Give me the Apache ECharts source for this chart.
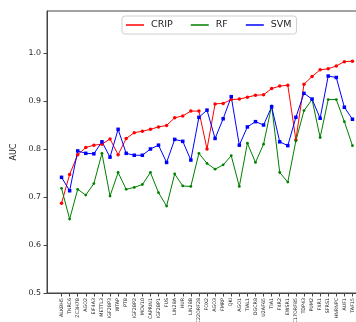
<!DOCTYPE html>
<html>
<head>
<meta charset="utf-8">
<script src="https://cdn.jsdelivr.net/npm/echarts@6/dist/echarts.min.js"></script>
<style>
html,body{margin:0;padding:0;background:#fff;}
#c{width:356px;height:322px;}
</style>
</head>
<body>
<div id="c"></div>
<script>
const categories = ['ALKBH5','TNRC6','ZC3H7B','AGO2','EIF4A3','METTL3','IGF2BP3','WTAP','PTB','IGF2BP2','MOV10','CAPRIN1','IGF2BP1','FUS','LIN28A','HUR','LIN28B','C22ORF28','FOX2','AGO3','FMRP','QKI','AGO1','TIAL1','DGCR8','U2AF65','TIA1','FXR2','EWSR1','C17ORF85','TDP43','PUM2','FXR1','SFRS1','HNRNPC','AUF1','TAF15'];
const crip = [0.687,0.747,0.788,0.803,0.808,0.810,0.821,0.788,0.822,0.834,0.837,0.841,0.846,0.849,0.865,0.869,0.879,0.879,0.800,0.894,0.895,0.903,0.904,0.908,0.912,0.913,0.926,0.931,0.933,0.819,0.935,0.951,0.965,0.967,0.973,0.982,0.983];
const rf = [0.718,0.654,0.716,0.704,0.728,0.791,0.702,0.751,0.716,0.720,0.726,0.751,0.709,0.681,0.748,0.723,0.722,0.791,0.770,0.758,0.767,0.786,0.722,0.812,0.772,0.810,0.890,0.751,0.731,0.817,0.880,0.903,0.824,0.903,0.903,0.857,0.807];
const svm = [0.741,0.713,0.796,0.791,0.790,0.815,0.783,0.841,0.791,0.787,0.787,0.800,0.808,0.772,0.820,0.816,0.777,0.866,0.881,0.822,0.863,0.909,0.808,0.846,0.857,0.850,0.888,0.815,0.807,0.866,0.916,0.904,0.864,0.952,0.949,0.887,0.862];
const yTicks = [0.5,0.6,0.7,0.8,0.9,1.0];

const idx = categories.map((_, i) => i);
const toPts = arr => arr.map((v, i) => [i, v]);
const chart = echarts.init(document.getElementById('c'), null, {renderer:'canvas'});
const font = 'DejaVu Sans';
chart.setOption({
  animation: false,
  backgroundColor: '#fff',
  textStyle: {fontFamily: font},
  grid: {left: 47, top: 11, width: 320, height: 282, outerBoundsMode: 'none', containLabel: false,
    show: true, borderColor: '#444', borderWidth: 1, backgroundColor: 'transparent'},
  legend: {
    left: 122, top: 16,
    data: ['CRIP','RF','SVM'],
    icon: 'rect', itemWidth: 18, itemHeight: 1.5, itemGap: 18,
    padding: [4, 5, 4, 4],
    borderColor: '#d0d0d0', borderWidth: 1, borderRadius: 3,
    textStyle: {fontFamily: font, fontSize: 9.5, color: '#222', padding: [0,0,0,2]}
  },
  xAxis: {
    type: 'value', min: -1.8, max: 37.8,
    splitLine: {show: false},
    axisLine: {show: true, onZero: false, lineStyle: {color: '#444', width: 1}},
    axisTick: {show: true, length: 3.5, customValues: idx, lineStyle: {color: '#444'}},
    axisLabel: {customValues: idx, rotate: 90, fontSize: 4.8, color: '#222', margin: 5, fontFamily: font,
      formatter: v => categories[Math.round(v)] || ''}
  },
  yAxis: {
    type: 'value', min: 0.5, max: 1.0875,
    name: 'AUC', nameLocation: 'middle', nameGap: 27, nameRotate: 90,
    nameTextStyle: {fontSize: 8, color: '#222', fontFamily: font},
    splitLine: {show: false},
    axisLine: {show: true, onZero: false, lineStyle: {color: '#444', width: 1}},
    axisTick: {show: true, length: 3.5, customValues: yTicks, lineStyle: {color: '#444'}},
    axisLabel: {customValues: yTicks, fontSize: 7.9, color: '#222', margin: 6, fontFamily: font,
      formatter: v => v.toFixed(1)}
  },
  series: [
    {name: 'CRIP', type: 'line', data: toPts(crip), color: '#ff0000', symbol: 'circle', symbolSize: 3.5, showSymbol: true,
      lineStyle: {width: 1, color: '#ff0000'}, itemStyle: {color: '#ff0000'}},
    {name: 'RF', type: 'line', data: toPts(rf), color: '#008000', symbol: 'circle', symbolSize: 2.8, showSymbol: true,
      lineStyle: {width: 1, color: '#008000'}, itemStyle: {color: '#008000'}},
    {name: 'SVM', type: 'line', data: toPts(svm), color: '#0000ff', symbol: 'rect', symbolSize: 3.5, showSymbol: true,
      lineStyle: {width: 1, color: '#0000ff'}, itemStyle: {color: '#0000ff'}}
  ]
});
</script>
</body>
</html>
